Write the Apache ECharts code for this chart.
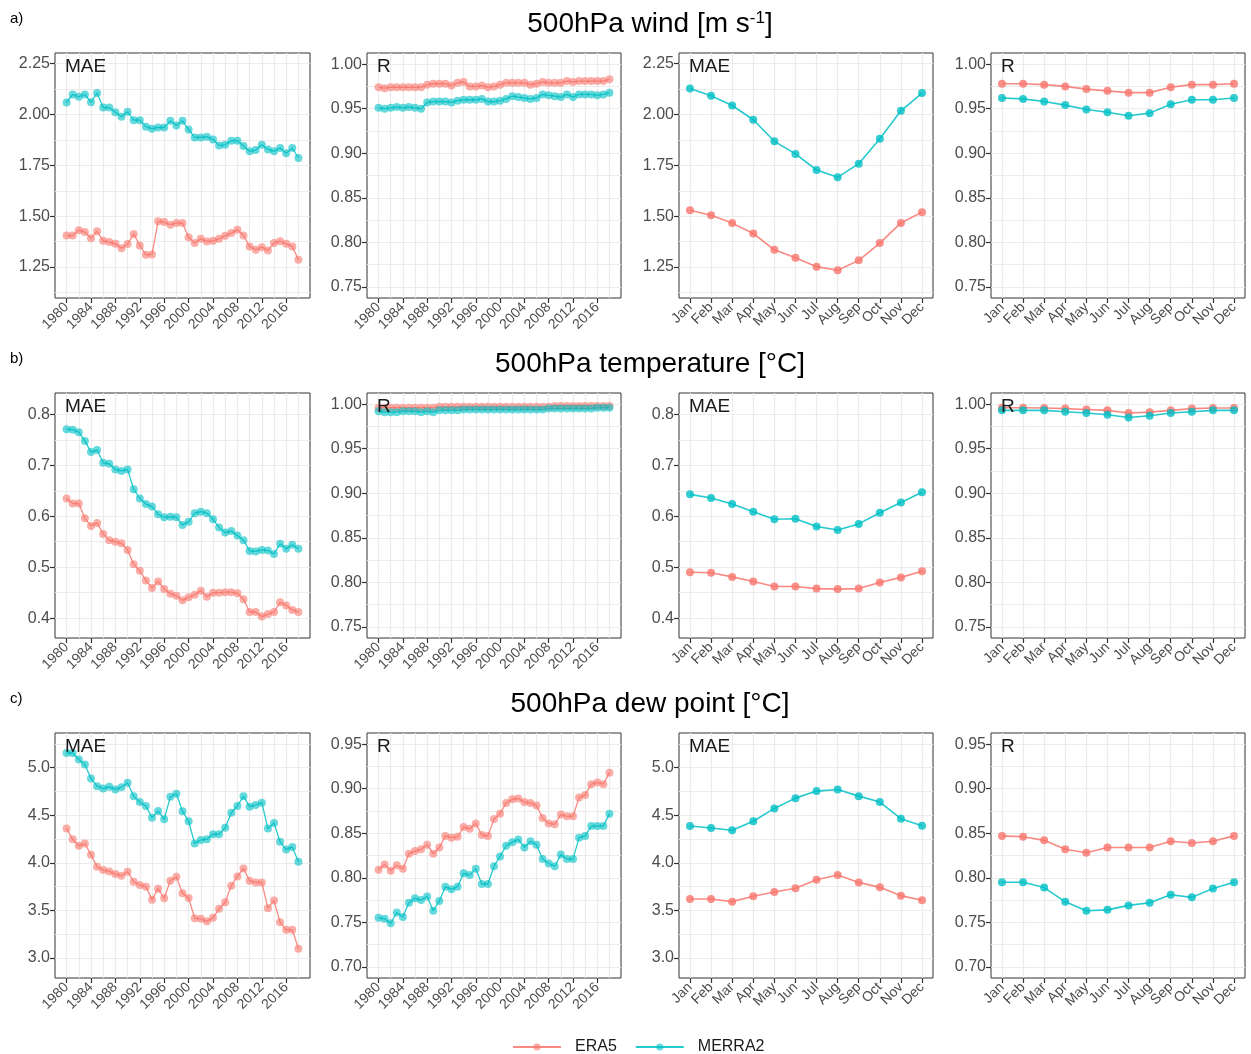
<!DOCTYPE html>
<html>
<head>
<meta charset="utf-8">
<script src="https://cdn.jsdelivr.net/npm/echarts@6/dist/echarts.min.js"></script>
<style>
html,body{margin:0;padding:0;background:#fff;}
#chart{width:1251px;height:1054px;}
</style>
</head>
<body>
<div id="chart"></div>
<script>
// x categories
var years = [1980,1981,1982,1983,1984,1985,1986,1987,1988,1989,1990,1991,1992,1993,1994,1995,1996,1997,1998,1999,
             2000,2001,2002,2003,2004,2005,2006,2007,2008,2009,2010,2011,2012,2013,2014,2015,2016,2017,2018];
var months = ['Jan','Feb','Mar','Apr','May','Jun','Jul','Aug','Sep','Oct','Nov','Dec'];
var monthIdx = [1,2,3,4,5,6,7,8,9,10,11,12];
var yearTicks = [1980,1984,1988,1992,1996,2000,2004,2008,2012,2016];
var yearGrid = [1980,1982,1984,1986,1988,1990,1992,1994,1996,1998,2000,2002,2004,2006,2008,2010,2012,2014,2016,2018];

// y ticks (major) and grid lines (major + minor)
var windMaeTicks = [1.25,1.5,1.75,2.0,2.25];
var windMaeGrid = [1.125,1.25,1.375,1.5,1.625,1.75,1.875,2.0,2.125,2.25];
var rTicksHigh = [0.75,0.8,0.85,0.9,0.95,1.0];
var rGridHigh = [0.75,0.775,0.8,0.825,0.85,0.875,0.9,0.925,0.95,0.975,1.0];
var tempMaeTicks = [0.4,0.5,0.6,0.7,0.8];
var tempMaeGrid = [0.4,0.45,0.5,0.55,0.6,0.65,0.7,0.75,0.8];
var dewMaeTicks = [3.0,3.5,4.0,4.5,5.0];
var dewMaeGrid = [3.0,3.25,3.5,3.75,4.0,4.25,4.5,4.75,5.0,5.25];
var rTicksLow = [0.7,0.75,0.8,0.85,0.9,0.95];
var rGridLow = [0.7,0.725,0.75,0.775,0.8,0.825,0.85,0.875,0.9,0.925,0.95];

// a) 500hPa wind
var windMaeYearERA5 = [1.405,1.405,1.431,1.422,1.392,1.426,1.379,1.373,1.364,1.343,1.363,1.413,1.356,1.310,1.312,1.475,1.471,1.458,1.466,1.466,
                       1.397,1.368,1.389,1.376,1.379,1.389,1.404,1.417,1.433,1.405,1.351,1.335,1.348,1.332,1.368,1.377,1.364,1.351,1.286];
var windMaeYearMERRA2 = [2.059,2.098,2.087,2.098,2.060,2.106,2.034,2.034,2.011,1.989,2.013,1.972,1.972,1.940,1.930,1.936,1.936,1.969,1.946,1.969,
                         1.926,1.887,1.887,1.891,1.877,1.848,1.851,1.871,1.871,1.845,1.819,1.825,1.851,1.828,1.819,1.835,1.809,1.835,1.786];
var windRYearERA5 = [0.974,0.973,0.974,0.974,0.974,0.974,0.974,0.974,0.977,0.978,0.978,0.978,0.976,0.979,0.980,0.975,0.975,0.976,0.974,0.975,
                     0.977,0.979,0.979,0.979,0.979,0.977,0.978,0.980,0.979,0.979,0.979,0.981,0.980,0.981,0.981,0.981,0.981,0.981,0.983];
var windRYearMERRA2 = [0.951,0.950,0.951,0.952,0.951,0.952,0.951,0.950,0.957,0.958,0.958,0.958,0.957,0.959,0.960,0.960,0.960,0.961,0.958,0.958,
                       0.959,0.961,0.964,0.963,0.962,0.961,0.962,0.966,0.965,0.964,0.963,0.966,0.963,0.966,0.966,0.966,0.965,0.966,0.968];
var windMaeMonERA5 = [1.529,1.505,1.466,1.415,1.335,1.296,1.252,1.234,1.283,1.368,1.467,1.520];
var windMaeMonMERRA2 = [2.127,2.092,2.044,1.974,1.868,1.806,1.727,1.691,1.758,1.881,2.018,2.105];
var windRMonERA5 = [0.978,0.978,0.977,0.975,0.972,0.970,0.968,0.968,0.974,0.977,0.977,0.978];
var windRMonMERRA2 = [0.962,0.961,0.958,0.954,0.949,0.946,0.942,0.945,0.955,0.960,0.960,0.962];

// b) 500hPa temperature
var tempMaeYearERA5 = [0.635,0.625,0.625,0.596,0.581,0.587,0.565,0.553,0.550,0.547,0.534,0.506,0.493,0.474,0.459,0.472,0.457,0.448,0.444,0.435,
                       0.441,0.446,0.454,0.442,0.450,0.450,0.451,0.451,0.449,0.437,0.412,0.412,0.403,0.408,0.412,0.431,0.425,0.416,0.412];
var tempMaeYearMERRA2 = [0.771,0.770,0.765,0.748,0.726,0.730,0.705,0.703,0.692,0.689,0.692,0.653,0.635,0.624,0.619,0.604,0.598,0.599,0.598,0.583,
                         0.589,0.606,0.609,0.606,0.594,0.578,0.568,0.571,0.562,0.553,0.532,0.531,0.534,0.533,0.526,0.546,0.536,0.544,0.536];
var tempRYearERA5 = [0.996,0.996,0.996,0.996,0.996,0.996,0.996,0.996,0.996,0.996,0.997,0.997,0.997,0.997,0.997,0.997,0.997,0.997,0.997,0.997,
                     0.997,0.997,0.997,0.997,0.997,0.997,0.997,0.997,0.997,0.998,0.998,0.998,0.998,0.998,0.998,0.998,0.998,0.998,0.998];
var tempRYearMERRA2 = [0.992,0.991,0.991,0.991,0.992,0.992,0.992,0.991,0.992,0.991,0.993,0.993,0.993,0.993,0.994,0.994,0.994,0.994,0.994,0.994,
                       0.994,0.994,0.994,0.994,0.994,0.994,0.994,0.994,0.995,0.995,0.995,0.995,0.995,0.995,0.995,0.995,0.996,0.996,0.996];
var tempMaeMonERA5 = [0.490,0.489,0.481,0.472,0.462,0.462,0.458,0.457,0.458,0.470,0.480,0.492];
var tempMaeMonMERRA2 = [0.643,0.636,0.624,0.609,0.594,0.595,0.580,0.573,0.585,0.607,0.627,0.647];
var tempRMonERA5 = [0.996,0.996,0.9956,0.995,0.994,0.993,0.990,0.991,0.993,0.995,0.9956,0.9956];
var tempRMonMERRA2 = [0.993,0.993,0.993,0.9915,0.990,0.988,0.985,0.987,0.990,0.9915,0.993,0.993];

// c) 500hPa dew point
var dewMaeYearERA5 = [4.359,4.247,4.178,4.202,4.084,3.958,3.923,3.909,3.882,3.864,3.906,3.801,3.767,3.749,3.613,3.728,3.627,3.812,3.854,3.679,
                      3.631,3.418,3.411,3.387,3.422,3.516,3.585,3.760,3.857,3.941,3.812,3.794,3.794,3.523,3.603,3.376,3.296,3.296,3.098];
var dewMaeYearMERRA2 = [5.153,5.153,5.084,5.031,4.885,4.805,4.780,4.798,4.770,4.794,4.840,4.700,4.638,4.596,4.474,4.544,4.456,4.693,4.725,4.540,
                        4.436,4.202,4.240,4.247,4.300,4.300,4.369,4.526,4.596,4.700,4.589,4.606,4.631,4.359,4.418,4.220,4.139,4.167,4.010];
var dewRYearERA5 = [0.809,0.815,0.808,0.814,0.810,0.827,0.830,0.832,0.837,0.827,0.834,0.847,0.845,0.846,0.857,0.855,0.861,0.848,0.847,0.866,
                    0.872,0.884,0.888,0.889,0.885,0.884,0.881,0.867,0.861,0.860,0.871,0.869,0.869,0.890,0.893,0.905,0.907,0.905,0.918];
var dewRYearMERRA2 = [0.755,0.754,0.749,0.761,0.756,0.772,0.777,0.775,0.779,0.763,0.774,0.790,0.787,0.790,0.805,0.803,0.810,0.793,0.793,0.813,
                      0.824,0.836,0.840,0.843,0.834,0.841,0.837,0.821,0.816,0.813,0.826,0.821,0.821,0.845,0.847,0.858,0.858,0.858,0.872];
var dewMaeMonERA5 = [3.620,3.620,3.592,3.648,3.693,3.732,3.822,3.871,3.794,3.742,3.655,3.606];
var dewMaeMonMERRA2 = [4.387,4.366,4.341,4.436,4.571,4.679,4.753,4.770,4.700,4.638,4.463,4.390];
var dewRMonERA5 = [0.847,0.846,0.842,0.832,0.828,0.834,0.834,0.834,0.841,0.839,0.841,0.847];
var dewRMonMERRA2 = [0.795,0.795,0.789,0.773,0.763,0.764,0.769,0.772,0.781,0.778,0.788,0.795];

var FONT = '"Liberation Sans", Arial, Helvetica, sans-serif';
var C_ERA5 = '#F8766D', C_MERRA2 = '#00BFC4';

var colLeft = [55, 367, 679, 991];
var colW = [255, 254, 254, 254];
var rowTop = [53, 393, 733];
var rowH = 245;

var rows = [
  {tag: 'a)', title: '500hPa wind [m s{s|-1}]',
   mae: {min: 1.098, max: 2.302, ticks: windMaeTicks, grid: windMaeGrid, dec: 2},
   r: {min: 0.7375, max: 1.0125, ticks: rTicksHigh, grid: rGridHigh, dec: 2},
   panels: [
     ['year', 'MAE', windMaeYearERA5, windMaeYearMERRA2],
     ['year', 'R', windRYearERA5, windRYearMERRA2],
     ['month', 'MAE', windMaeMonERA5, windMaeMonMERRA2],
     ['month', 'R', windRMonERA5, windRMonMERRA2]
   ]},
  {tag: 'b)', title: '500hPa temperature [°C]',
   mae: {min: 0.361, max: 0.842, ticks: tempMaeTicks, grid: tempMaeGrid, dec: 1},
   r: {min: 0.7375, max: 1.0125, ticks: rTicksHigh, grid: rGridHigh, dec: 2},
   panels: [
     ['year', 'MAE', tempMaeYearERA5, tempMaeYearMERRA2],
     ['year', 'R', tempRYearERA5, tempRYearMERRA2],
     ['month', 'MAE', tempMaeMonERA5, tempMaeMonMERRA2],
     ['month', 'R', tempRMonERA5, tempRMonMERRA2]
   ]},
  {tag: 'c)', title: '500hPa dew point [°C]',
   mae: {min: 2.79, max: 5.363, ticks: dewMaeTicks, grid: dewMaeGrid, dec: 1},
   r: {min: 0.6875, max: 0.9625, ticks: rTicksLow, grid: rGridLow, dec: 2},
   panels: [
     ['year', 'MAE', dewMaeYearERA5, dewMaeYearMERRA2],
     ['year', 'R', dewRYearERA5, dewRYearMERRA2],
     ['month', 'MAE', dewMaeMonERA5, dewMaeMonMERRA2],
     ['month', 'R', dewRMonERA5, dewRMonMERRA2]
   ]}
];

var grids = [], xAxes = [], yAxes = [], series = [], titles = [], graphics = [];

function pairs(xs, ys) {
  return xs.map(function (x, i) { return [x, ys[i]]; });
}

function addPanel(r, c, row, p) {
  var k = grids.length;
  var isYear = p[0] === 'year';
  var sc = p[1] === 'MAE' ? row.mae : row.r;
  var xmin = isYear ? 1978.1 : 0.48, xmax = isYear ? 2019.9 : 12.52;
  var xTicks = isYear ? yearTicks : monthIdx;
  var xGrid = isYear ? yearGrid : monthIdx;
  var xs = isYear ? years : monthIdx;

  grids.push({left: colLeft[c], top: rowTop[r], width: colW[c], height: rowH,
    show: true, borderColor: '#333', borderWidth: 1, backgroundColor: '#fff'});

  // labelled axis
  xAxes.push({type: 'value', gridIndex: k, min: xmin, max: xmax,
    axisLine: {show: false}, splitLine: {show: false},
    axisTick: {show: true, customValues: xTicks, length: 5, lineStyle: {color: '#333', width: 1.2}},
    axisLabel: {customValues: xTicks, rotate: 45, margin: 7, color: '#4d4d4d', fontSize: 14, fontFamily: FONT,
      formatter: isYear ? function (v) { return String(v); } : function (v) { return months[Math.round(v) - 1]; }}});
  // grid lines only
  xAxes.push({type: 'value', gridIndex: k, min: xmin, max: xmax,
    axisLine: {show: false}, axisLabel: {show: false},
    axisTick: {show: false, customValues: xGrid},
    splitLine: {show: true, customValues: xGrid, lineStyle: {color: '#ebebeb', width: 1.2}}});

  yAxes.push({type: 'value', gridIndex: k, min: sc.min, max: sc.max, position: 'left',
    axisLine: {show: false}, splitLine: {show: false},
    axisTick: {show: true, customValues: sc.ticks, length: 5, lineStyle: {color: '#333', width: 1.2}},
    axisLabel: {customValues: sc.ticks, margin: 5, color: '#4d4d4d', fontSize: 16, fontFamily: FONT,
      formatter: function (v) { return v.toFixed(sc.dec); }}});
  yAxes.push({type: 'value', gridIndex: k, min: sc.min, max: sc.max, position: 'left',
    axisLine: {show: false}, axisLabel: {show: false},
    axisTick: {show: false, customValues: sc.grid},
    splitLine: {show: true, customValues: sc.grid, lineStyle: {color: '#ebebeb', width: 1.2}}});

  var ptOpacity = isYear ? 0.6 : 0.8;
  [['ERA5', C_ERA5, p[2]], ['MERRA2', C_MERRA2, p[3]]].forEach(function (s) {
    series.push({name: s[0], type: 'line', xAxisIndex: 2 * k, yAxisIndex: 2 * k,
      data: pairs(xs, s[2]), symbol: 'circle', symbolSize: 8, showSymbol: true,
      lineStyle: {color: s[1], width: isYear ? 1.3 : 1.6, opacity: 0.85},
      itemStyle: {color: s[1], opacity: ptOpacity},
      emphasis: {disabled: true}, z: 3});
  });

  titles.push({text: p[1], left: colLeft[c] + 10, top: rowTop[r] + 4, padding: 0,
    textStyle: {fontSize: 19, fontWeight: 'normal', color: '#1a1a1a', fontFamily: FONT}});
}

rows.forEach(function (row, r) {
  row.panels.forEach(function (p, c) { addPanel(r, c, row, p); });
  var ty = rowTop[r] - 45;
  graphics.push({type: 'text', x: 10, y: ty + 3,
    style: {text: row.tag, fill: '#000', font: '15px ' + FONT}});
  graphics.push({type: 'text', x: 650, y: ty + 2,
    style: {text: row.title, fill: '#000', font: '28px ' + FONT, textAlign: 'center',
      rich: {s: {fontSize: 17, fontFamily: FONT, verticalAlign: 'top', lineHeight: 17}}}});
});

var chart = echarts.init(document.getElementById('chart'));
chart.setOption({
  animation: false,
  backgroundColor: '#fff',
  textStyle: {fontFamily: FONT},
  title: titles,
  grid: grids,
  xAxis: xAxes,
  yAxis: yAxes,
  series: series,
  graphic: graphics,
  legend: {data: ['ERA5', 'MERRA2'], left: 507, top: 1034, itemWidth: 48, itemHeight: 9, itemGap: 18,
    textStyle: {fontSize: 16, color: '#1a1a1a', fontFamily: FONT, padding: [0, 0, 0, 9]}}
});
</script>
</body>
</html>
